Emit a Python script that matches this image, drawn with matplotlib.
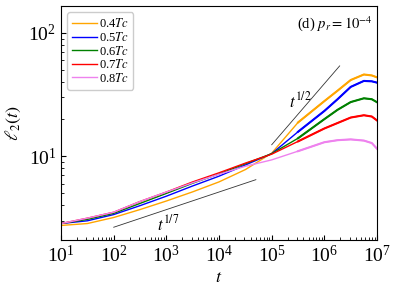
import matplotlib
matplotlib.use("Agg")
import matplotlib.pyplot as plt
from matplotlib.ticker import LogLocator, NullFormatter
import numpy as np

plt.rcParams.update({
    "font.family": "serif",
    "font.serif": ["Liberation Serif", "DejaVu Serif"],
    "mathtext.fontset": "stix",
    "xtick.direction": "in",
    "ytick.direction": "in",
})

# log10(t) sampling points
log_t = [1, 1.5, 2, 2.5, 3, 3.5, 4, 4.5, 5, 5.5, 6, 6.25, 6.5, 6.75, 6.9, 7]

l2_04 = [2.75, 2.85, 3.19, 3.70, 4.34, 5.15, 6.20, 7.80, 10.6, 18.8, 28.0, 34.0, 41.5, 46.0, 45.2, 43.6]
l2_05 = [2.85, 3.00, 3.37, 3.98, 4.75, 5.75, 6.90, 8.50, 10.5, 15.8, 23.3, 29.0, 36.5, 40.8, 40.5, 39.5]
l2_06 = [2.85, 3.08, 3.45, 4.15, 5.00, 6.05, 7.20, 8.70, 10.5, 14.0, 20.0, 23.8, 27.5, 29.5, 29.0, 27.4]
l2_07 = [2.85, 3.15, 3.52, 4.30, 5.13, 6.20, 7.35, 8.80, 10.4, 13.2, 16.8, 18.6, 20.6, 21.5, 21.0, 19.5]
l2_08 = [2.85, 3.15, 3.52, 4.30, 5.13, 6.10, 7.15, 8.30, 9.35, 11.0, 13.0, 13.5, 13.7, 13.4, 12.8, 11.5]

labels = [r"0.4$Tc$", r"0.5$Tc$", r"0.6$Tc$", r"0.7$Tc$", r"0.8$Tc$"]
colors = ["orange", "blue", "green", "red", "violet"]

x_ticks = [1e1, 1e2, 1e3, 1e4, 1e5, 1e6, 1e7]
y_ticks = [1e1, 1e2]

# guide lines (power laws)
t_g7 = [1e2, 5e4]
y_g7 = [2.66, 6.46]
t_g2 = [1e5, 1.95e6]
y_g2 = [12.4, 54.0]

t = 10.0 ** np.array(log_t)
late = t >= 10 ** 5.5

fig = plt.figure(figsize=(3.99, 2.88), dpi=100)
ax = fig.add_axes([0.153, 0.167, 0.792, 0.812])

for y, lab, c in zip([l2_04, l2_05, l2_06, l2_07, l2_08], labels, colors):
    y = np.array(y)
    ax.plot(t, y, color=c, lw=1.0, label=lab)
    # late-time data are noisy -> slightly thicker band
    ax.plot(t[late], y[late], color=c, lw=1.5)

ax.plot(t_g7, y_g7, color="#333333", lw=0.6)
ax.plot(t_g2, y_g2, color="#333333", lw=0.6)
ax.text(6.7e2, 2.5, r"$t^{1/7}$", fontsize=12)
ax.text(2.1e5, 25, r"$t^{1/2}$", fontsize=12)
ax.text(0.985, 0.965, r"(d) $p_r = 10^{-4}$", transform=ax.transAxes,
        ha="right", va="top", fontsize=10.5)

ax.set_xscale("log")
ax.set_yscale("log")
ax.set_xlim(10, 1e7)
ax.set_ylim(2.1, 165)
ax.set_xticks(x_ticks)
ax.set_yticks(y_ticks)
ax.xaxis.set_minor_locator(LogLocator(base=10, subs=np.arange(2, 10), numticks=20))
ax.xaxis.set_minor_formatter(NullFormatter())
ax.yaxis.set_minor_formatter(NullFormatter())
ax.set_xlabel(r"$t$", fontsize=13, labelpad=2)
ax.set_ylabel(r"$\ell_2(t)$", fontsize=13)
ax.tick_params(labelsize=14, top=False, right=False)
ax.tick_params(which="minor", top=False, right=False)

ax.legend(loc="upper left", fontsize=9, labelspacing=0.05, handlelength=2.0,
          handletextpad=0.1, borderpad=0.4, framealpha=1, edgecolor="#cccccc")

fig.savefig("out.png", dpi=100)
